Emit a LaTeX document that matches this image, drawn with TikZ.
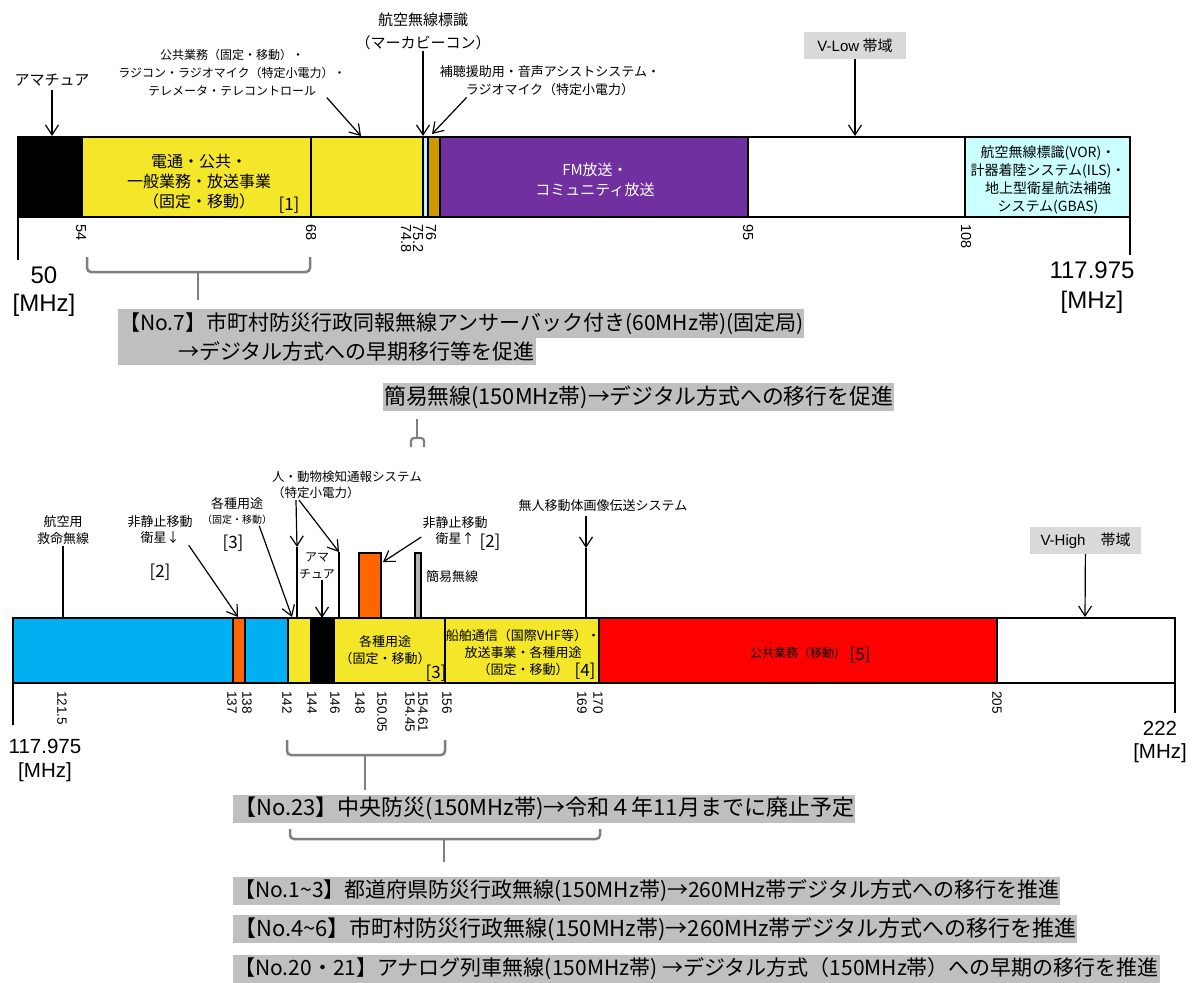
\documentclass[tikz,border=0pt]{standalone}
\usepackage{fontspec}
\setmainfont{Noto Sans CJK JP}
\newfontfamily\numfont{Liberation Sans}
\usetikzlibrary{arrows.meta}

\definecolor{bandyellow}{RGB}{244,230,40}
\definecolor{fmpurple}{RGB}{112,48,160}
\definecolor{beaconblue}{RGB}{190,240,250}
\definecolor{hearing}{RGB}{204,153,0}
\definecolor{navcyan}{RGB}{204,255,255}
\definecolor{atcblue}{RGB}{0,176,240}
\definecolor{satorange}{RGB}{255,102,0}
\definecolor{pubred}{RGB}{255,0,0}
\definecolor{simplegray}{RGB}{180,180,180}
\definecolor{notegray}{RGB}{191,191,191}
\definecolor{taggray}{RGB}{217,217,217}
\definecolor{bracegray}{RGB}{127,127,127}

\newcommand\setfs[2]{\fontsize{#1}{#2}\selectfont}

\tikzset{
  band/.style={draw=black, line width=1.8pt},
  sep/.style={draw=black, line width=1.2pt},
  lbl/.style={align=center, inner sep=1pt},
  tick/.style={font=\numfont\setfs{#1}{#1}, rotate=-90, anchor=west, inner sep=0pt},
  tick/.default=13,
  arr/.style={-{Straight Barb[length=10pt,width=13pt]}, line width=1.2pt},
  brc/.style={draw=bracegray, line width=2.5pt, rounded corners=4pt},
  note/.style={fill=notegray, anchor=west, inner xsep=1pt, inner ysep=0pt, minimum height=28pt, font=\setfs{#1}{#1}},
  note/.default=21,
  tag/.style={fill=taggray, inner sep=0pt, minimum height=27pt, font=\setfs{15}{15}},
  ref/.style={inner sep=0pt, font=\setfs{17}{17}},
  endlbl/.style={inner sep=0pt, font=\numfont\setfs{#1}{#1}}
}

\begin{document}
\begin{tikzpicture}[x=1pt, y=-1pt]
\useasboundingbox (0,0) rectangle (1193,982);

\fill[black] (18,137) rectangle (82,217);
\fill[bandyellow] (82,137) rectangle (423,217);
\fill[beaconblue] (423,137) rectangle (428,217);
\fill[hearing] (428,137) rectangle (440,217);
\fill[fmpurple] (440,137) rectangle (748,217);
\fill[navcyan] (965,137) rectangle (1130,217);
\foreach \x in {82,311,423,428,440,748,965}
  \draw[sep] (\x,137) -- (\x,217);
\draw[band] (18,137) rectangle (1130,217);
\draw[line width=2.5pt] (18,217) -- (18,260);
\draw[line width=2.5pt] (1130,217) -- (1130,255);

\node[font=\setfs{15}{15}] (amt) at (52,80) {アマチュア};
\node[lbl, font=\setfs{12}{18}] (kokyo) at (232,73) {公共業務（固定・移動）・\\ラジコン・ラジオマイク（特定小電力）・\\テレメータ・テレコントロール};
\node[lbl, font=\setfs{15}{23}] (marker) at (423,31) {航空無線標識\\（マーカビーコン）};
\node[lbl, font=\setfs{13}{18}] (hocho) at (550,81) {補聴援助用・音声アシストシステム・\\ラジオマイク（特定小電力）};
\node[tag, minimum width=102pt] (vlow) at (855,45.5) {{\numfont V-Low} 帯域};

\node[lbl, font=\setfs{16}{20}] (dentsu) at (199,182) {電通・公共・\\一般業務・放送事業\\（固定・移動）};
\node[ref] (r1) at (289,205) {[1]};
\node[lbl, text=white, font=\setfs{15}{20}] (fm) at (595,180) {FM放送・\\コミュニティ放送};
\node[lbl, font=\setfs{14}{17.7}] (nav) at (1048,180) {航空無線標識(VOR)・\\計器着陸システム(ILS)・\\地上型衛星航法補強\\システム(GBAS)};

\coordinate (amt-p) at (52,136);
\coordinate (kokyo-p) at (361,136);
\coordinate (marker-p) at (423,136);
\coordinate (hocho-p) at (432,134);
\coordinate (vlow-p) at (855,136);
\draw[arr] (amt) -- (amt-p);
\draw[arr] ([xshift=-20pt]kokyo.south east) -- (kokyo-p);
\draw[arr] (marker) -- (marker-p);
\draw[arr] ([xshift=28pt]hocho.south west) -- (hocho-p);
\draw[arr] (vlow) -- (vlow-p);

\foreach \x/\f [count=\i] in {81/54,311/68,406/74.8,418/75.2,431/76,748/95,966/108}
  \node[tick=14.5] (ftop\i) at (\x,224) {\f};

\node[endlbl=24] (lo50) at (44,275) {50};
\node[endlbl=24] (lomhz) at (44,305) {[MHz]};
\node[endlbl=24] (hi117) at (1092,270) {117.975};
\node[endlbl=24] (himhz) at (1092,302) {[MHz]};

\draw[brc] (87,257) |- (310,272) -- (310,257);
\draw[brc] (198,272) -- (198,300);
\node[note, minimum height=29pt] (no7a) at (118,323.5) {【No.7】市町村防災行政同報無線アンサーバック付き(60MHz帯)(固定局)};
\node[note, minimum height=27pt] (no7b) at (118,351.5) {\hspace*{59pt}→デジタル方式への早期移行等を促進};

\node[note=21.8] (kan) at (383,397) {簡易無線(150MHz帯)→デジタル方式への移行を促進};
\draw[brc, line width=2.2pt] (417,419) -- (417,438);
\draw[brc, line width=2.2pt, rounded corners=3pt] (411,447) |- (424,438) -- (424,447);

\fill[atcblue] (13,618) rectangle (288,683);
\fill[satorange] (233,618) rectangle (245,683);
\fill[bandyellow] (288,618) rectangle (599,683);
\fill[black] (311,618) rectangle (334,683);
\fill[pubred] (599,618) rectangle (997,683);
\foreach \x in {233,245,288,311,334,445,599,997}
  \draw[sep] (\x,618) -- (\x,683);
\draw[band] (13,618) rectangle (1175,683);
\draw[line width=1.5pt] (13,683) -- (13,725);
\draw[line width=1.5pt] (1175,683) -- (1175,713);
\filldraw[fill=satorange, draw=black, line width=1.2pt] (359,553) rectangle (381,618);
\filldraw[fill=simplegray, draw=black, line width=1.2pt] (415,553) rectangle (421,618);

\coordinate (koku-p) at (63,618);
\coordinate (hisei1-p) at (238,617);
\coordinate (kakushu1-p) at (292,617);
\coordinate (hito-a) at (297,547);
\coordinate (hito-b) at (339,552);
\coordinate (ama2-p) at (322,618);
\coordinate (hisei2-p) at (383,562);
\coordinate (mujin-a) at (586,548);
\coordinate (vhigh-p) at (1085,617);

\node[lbl, font=\setfs{13}{17}] (koku) at (63,530) {航空用\\救命無線};
\draw[line width=1.2pt] (koku) -- (koku-p);
\node[lbl, font=\setfs{13}{16}] (hisei1) at (160,530) {非静止移動\\衛星↓};
\node[ref] (r2a) at (160,572) {[2]};
\draw[arr] ([xshift=-5pt]hisei1.south east) -- (hisei1-p);
\node[lbl, font=\setfs{13}{15}] (kakushu1) at (237,511) {各種用途\\{\setfs{10}{10}（固定・移動）}};
\node[ref] (r3a) at (233,543) {[3]};
\draw[arr] ([xshift=-14pt]kakushu1.south east) -- (kakushu1-p);
\node[lbl, align=left, font=\setfs{12.5}{16}] (hito) at (347,485) {人・動物検知通報システム\\（特定小電力）};
\draw[arr] ([xshift=25pt]hito.south west) -- (hito-a);
\draw[arr] ([xshift=28pt]hito.south west) -- (hito-b);
\draw[sep] (hito-a) -- (hito-a |- ama2-p);
\draw[sep] (hito-b) -- (hito-b |- ama2-p);
\node[lbl, font=\setfs{12}{17}] (ama2) at (317,566) {アマ\\チュア};
\draw[arr] ([xshift=5pt]ama2.south) -- (ama2-p);
\node[lbl, font=\setfs{13}{16}] (hisei2) at (455,531) {非静止移動\\衛星↑};
\node[ref] (r2b) at (490,542) {[2]};
\draw[arr] ([yshift=-6pt]hisei2.west) -- (hisei2-p);
\node[font=\setfs{13}{13}] (kanlbl) at (452,577) {簡易無線};
\node[lbl, font=\setfs{13}{17}] (kakushu2) at (385,650) {各種用途\\（固定・移動）};
\node[ref] (r3b) at (436,673) {[3]};
\node[lbl, font=\setfs{13}{17}] (senpaku) at (523,653) {船舶通信（国際VHF等）・\\放送事業・各種用途\\（固定・移動）};
\node[ref] (r4) at (585,671) {[4]};
\node[font=\setfs{13}{13}] (mujin) at (603,506) {無人移動体画像伝送システム};
\draw[arr] ([xshift=-17pt]mujin.south) -- (mujin-a);
\draw[sep] (mujin-a) -- (mujin-a |- ama2-p);
\node[font=\setfs{12}{12}] (kokyo2) at (798,653) {公共業務（移動）};
\node[ref] (r5) at (860,655) {[5]};
\node[tag, minimum width=111pt] (vhigh) at (1085.5,540.5) {{\numfont V-High}　帯域};
\draw[arr] (vhigh) -- (vhigh-p);

\foreach \x/\f [count=\i] in {62/121.5,232/137,247/138,287/142,312/144,335/146,360/148,382/150.05,410/154.45,423/154.61,447/156,582/169,598/170,997/205}
  \node[tick=13.5] (fbot\i) at (\x,691) {\f};

\node[endlbl=20.5] (lo117) at (45,746) {117.975};
\node[endlbl=20.5] (lomhz2) at (45,772) {[MHz]};
\node[endlbl=20.5] (hi222) at (1160,728) {222};
\node[endlbl=20.5] (himhz2) at (1160,753) {[MHz]};

\draw[brc] (287,740) |- (445,755) -- (445,740);
\draw[brc] (365,755) -- (365,790);
\node[note=22] (no23) at (233,808.5) {【No.23】中央防災(150MHz帯)→令和４年11月までに廃止予定};
\draw[brc] (290,829) |- (600,839) -- (600,829);
\draw[brc] (444,839) -- (444,862);
\node[note] (no1) at (233,891) {【No.1\textasciitilde3】都道府県防災行政無線(150MHz帯)→260MHz帯デジタル方式への移行を推進};
\node[note=22] (no4) at (233,929) {【No.4\textasciitilde6】市町村防災行政無線(150MHz帯)→260MHz帯デジタル方式への移行を推進};
\node[note] (no20) at (233,968.5) {【No.20・21】アナログ列車無線(150MHz帯) →デジタル方式（150MHz帯）への早期の移行を推進};
\end{tikzpicture}
\end{document}
